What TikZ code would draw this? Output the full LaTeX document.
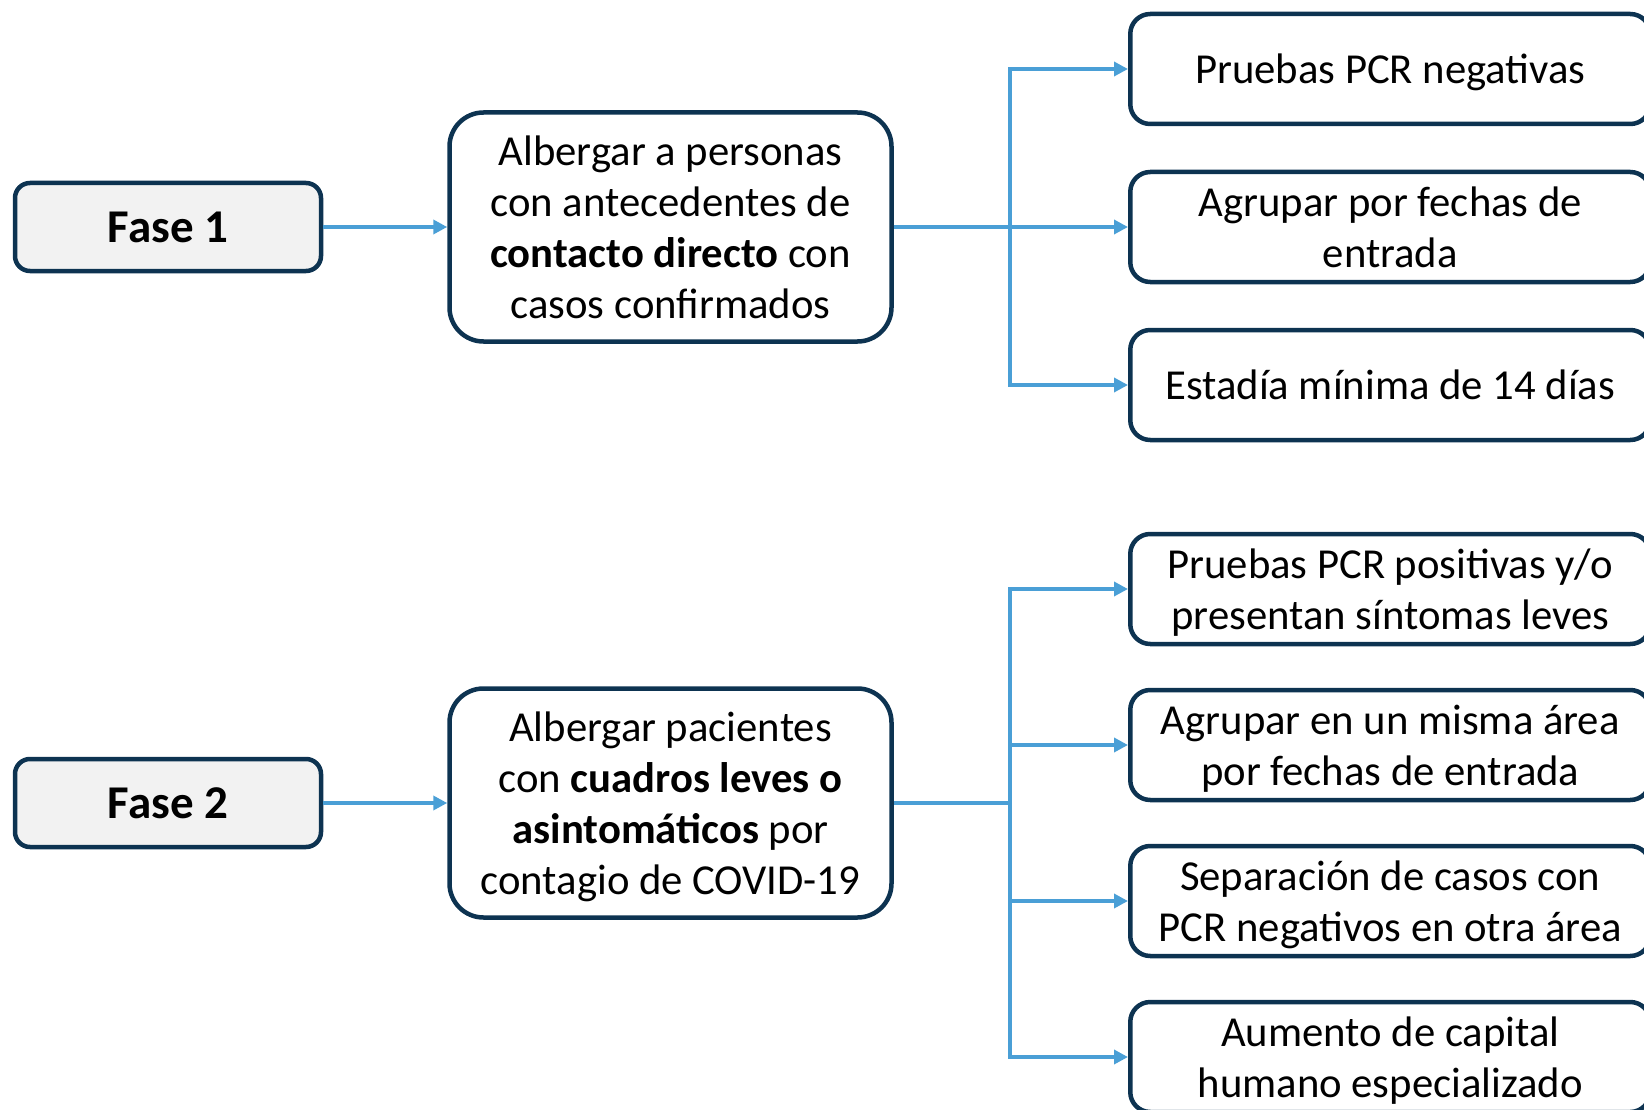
\documentclass[tikz,border=0pt]{standalone}
\usepackage{fontspec}
\setmainfont{Carlito}
\usetikzlibrary{arrows.meta}
\definecolor{navy}{HTML}{0D3351}
\definecolor{arrblue}{HTML}{4A9FD6}
\definecolor{fasefill}{HTML}{F2F2F2}
\newcommand{\linestrut}{\rule[-0.2em]{0pt}{1.08em}}
\newcommand{\nl}{\linestrut\\\linestrut}
\tikzset{
  basebox/.style={draw=navy, line width=4.5pt, align=center, inner sep=0pt,
    font=\fontsize{42.7}{51}\selectfont,
    execute at begin node=\linestrut, execute at end node=\linestrut},
  fasebox/.style={basebox, fill=fasefill, rounded corners=15pt,
    minimum width=306pt, minimum height=88pt, font=\fontsize{47}{56}\selectfont\bfseries},
  midbox/.style={basebox, fill=white, rounded corners=34pt,
    minimum width=442pt, minimum height=229pt},
  rbox/.style={basebox, fill=white, rounded corners=20pt,
    minimum width=520pt, minimum height=110pt, anchor=west},
  arr/.style={draw=arrblue, line width=3.8pt, -{Triangle[length=14pt,width=14pt]}},
}
\begin{document}
\begin{tikzpicture}[x=1pt,y=1pt]
\useasboundingbox (0,0) rectangle (1644,-1110);
\clip (0,0) rectangle (1644,-1110);
% Fase nodes
\node[fasebox] (f1) at (168,-227) {Fase 1};
\node[fasebox] (f2) at (168,-803) {Fase 2};
% middle nodes
\node[midbox] (m1) at (670.5,-227) {Albergar a personas\nl con antecedentes de\nl \textbf{contacto directo} con\nl casos confirmados};
\node[midbox] (m2) at (670.5,-803) {Albergar pacientes\nl con \textbf{cuadros leves o}\nl \textbf{asintomáticos} por\nl contagio de COVID-19};
% right nodes
\node[rbox] (r1) at (1128,-69) {Pruebas PCR negativas};
\node[rbox] (r2) at (1128,-227) {Agrupar por fechas de\nl entrada};
\node[rbox] (r3) at (1128,-385) {Estadía mínima de 14 días};
\node[rbox] (r4) at (1128,-589) {Pruebas PCR positivas y/o\nl presentan síntomas leves};
\node[rbox] (r5) at (1128,-745) {Agrupar en un misma área\nl por fechas de entrada};
\node[rbox] (r6) at (1128,-901) {Separación de casos con\nl PCR negativos en otra área};
\node[rbox] (r7) at (1128,-1057) {Aumento de capital\nl humano especializado};
% junctions
\coordinate (j1) at (1010,-227);
\coordinate (j2) at (1010,-803);
% connectors
\draw[arr] (f1.east) -- (m1.west);
\draw[arr] (f2.east) -- (m2.west);
\foreach \r in {r1,r2,r3}{\draw[arr] (m1.east) -- (j1) |- (\r.west);}
\foreach \r in {r4,r5,r6,r7}{\draw[arr] (m2.east) -- (j2) |- (\r.west);}
\end{tikzpicture}
\end{document}
